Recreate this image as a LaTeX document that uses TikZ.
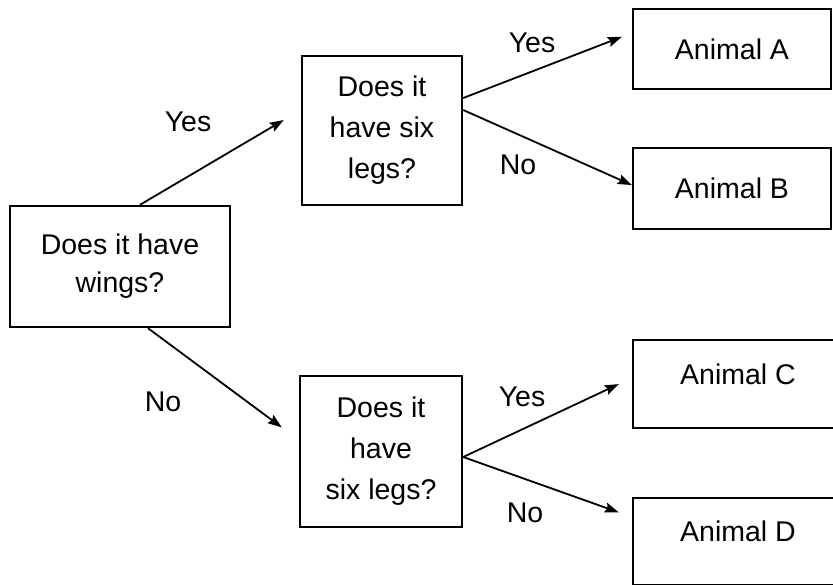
\documentclass[tikz,border=0pt]{standalone}
\usepackage{fontspec}
\setmainfont{Liberation Sans}
\usepackage{tikz}
\usetikzlibrary{arrows.meta}

\begin{document}
\begin{tikzpicture}[x=1pt, y=-1pt,
    box/.style={draw, line width=2.4pt, inner sep=0pt, align=center, font=\fontsize{28.5}{41}\selectfont},
    link/.style={-{Stealth[length=14pt,width=10pt,inset=2pt]}, line width=1.8pt},
    lbl/.style={font=\fontsize{28.5}{34}\selectfont}]
    \useasboundingbox (0,0) rectangle (833,584);
    \clip (0,0) rectangle (833,584);

    % Questions
    \node[box, minimum width=220pt, minimum height=121pt, font=\fontsize{28.5}{38}\selectfont] (wings) at (120,266.5) {Does it have\\wings?};
    \node[box, minimum width=160pt, minimum height=149pt] (topq) at (382,130.5) {Does it\\have six\\legs?};
    \node[box, minimum width=162pt, minimum height=151pt] (botq) at (381,451.5) {Does it\\have\\six legs?};

    % Answers
    \node[box, minimum width=198pt, minimum height=80pt] (animA) at (732,49) {Animal A};
    \node[box, minimum width=198pt, minimum height=81pt] (animB) at (732,188.5) {Animal B};
    \node[box, minimum width=210pt, text height=44pt, text depth=44pt] (animC) at (738,384) {Animal C};
    \node[box, minimum width=210pt, text height=43.5pt, text depth=43.5pt] (animD) at (738,541.5) {Animal D};

    % Arrows from first question
    \draw[link, shorten >=19.8pt] ([xshift=20pt]wings.north) -- ([yshift=20.5pt]topq.west);
    \draw[link, shorten >=21.2pt] ([xshift=28pt]wings.south) -- ([yshift=11.5pt]botq.west);

    % Arrows to animals
    \draw[link, shorten >=10.7pt] ([yshift=32.5pt]topq.east) -- ([yshift=16pt]animA.west);
    \draw[link] ([yshift=20.5pt]topq.east) -- ([yshift=3.5pt]animB.west);
    \draw[link, shorten >=14.3pt] ([yshift=-5.5pt]botq.east) -- ([yshift=6pt]animC.west);
    \draw[link, shorten >=13.8pt] ([yshift=-5.5pt]botq.east) -- ([yshift=24.5pt]animD.west);

    % Labels
    \node[lbl] (yesWings) at (188,122) {Yes};
    \node[lbl] (noWings) at (163,402) {No};
    \node[lbl] (yesTop) at (532,43) {Yes};
    \node[lbl] (noTop) at (518,165) {No};
    \node[lbl] (yesBot) at (522,397) {Yes};
    \node[lbl] (noBot) at (525,513) {No};
\end{tikzpicture}
\end{document}
